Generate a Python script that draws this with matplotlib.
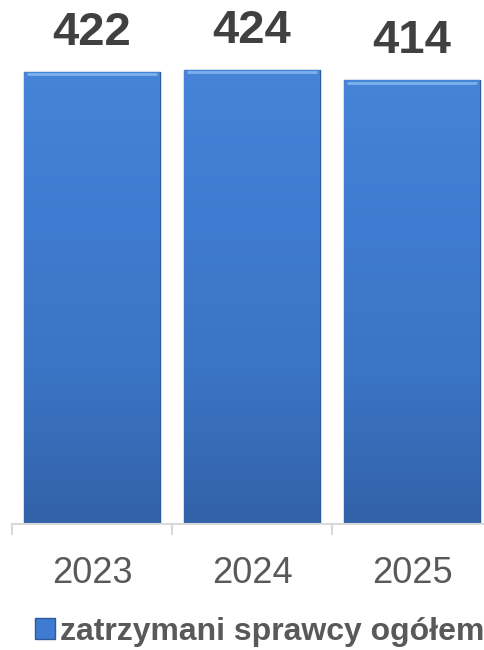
import matplotlib.pyplot as plt
import numpy as np
from matplotlib.colors import LinearSegmentedColormap
from matplotlib.patches import Patch

years = ["2023", "2024", "2025"]
values = [422, 424, 414]
series_name = "zatrzymani sprawcy ogółem"

plt.rcParams['font.family'] = ['Liberation Sans', 'DejaVu Sans']

fig = plt.figure(figsize=(4.85, 6.5), dpi=100)
ax = fig.add_axes([12 / 485, 126 / 650, 480 / 485, 524 / 650])

x = np.arange(len(years))
bars = ax.bar(x, values, width=0.85, color="#3f7bd0", edgecolor="#2c5a9a", linewidth=1.0, zorder=2)

# vertical gradient on each bar, like the Excel fill
cmap = LinearSegmentedColormap.from_list("bar", ["#3262a8", "#3b74c4", "#3f7bd0", "#4684d8"])
grad = np.linspace(0, 1, 256).reshape(-1, 1)
for b in bars:
    x0, y0 = b.get_x(), b.get_y()
    w, h = b.get_width(), b.get_height()
    im = ax.imshow(grad, cmap=cmap, origin="lower", aspect="auto",
                   extent=[x0, x0 + w, y0, y0 + h], zorder=2.5)
    im.set_clip_path(b)
    # lighter top edge (bevel)
    ax.plot([x0 + 0.02, x0 + w - 0.02], [y0 + h - 2, y0 + h - 2], color="#7fb0ec", lw=2, zorder=3,
            solid_capstyle="butt")

for xi, v in zip(x, values):
    ax.text(xi, v + 16, str(v), ha="center", va="bottom", fontsize=34, fontweight="bold", color="#404040")

ax.set_xlim(-0.5, 2.5)
ax.set_ylim(0, 489)
ax.set_xticks(x)
ax.set_xticklabels(years, fontsize=26, color="#595959")
ax.set_xticks([-0.5, 0.5, 1.5, 2.5], minor=True)
ax.tick_params(axis="x", which="major", length=0, pad=23)
ax.tick_params(axis="x", which="minor", length=8, color="#d9d9d9", width=1.5)
ax.set_yticks([])
for s in ["top", "right", "left"]:
    ax.spines[s].set_visible(False)
ax.spines["bottom"].set_color("#d9d9d9")
ax.spines["bottom"].set_linewidth(1.5)

handle = Patch(facecolor="#3f7bd0", edgecolor="#2c5a9a", label=series_name)
fig.legend(handles=[handle], loc="center", bbox_to_anchor=(0.535, 1 - 632 / 650), frameon=False,
           prop={"size": 23, "weight": "bold"}, labelcolor="#595959",
           handlelength=0.65, handleheight=0.65, handletextpad=0.15, borderpad=0)

fig.savefig("out.png", dpi=100)
